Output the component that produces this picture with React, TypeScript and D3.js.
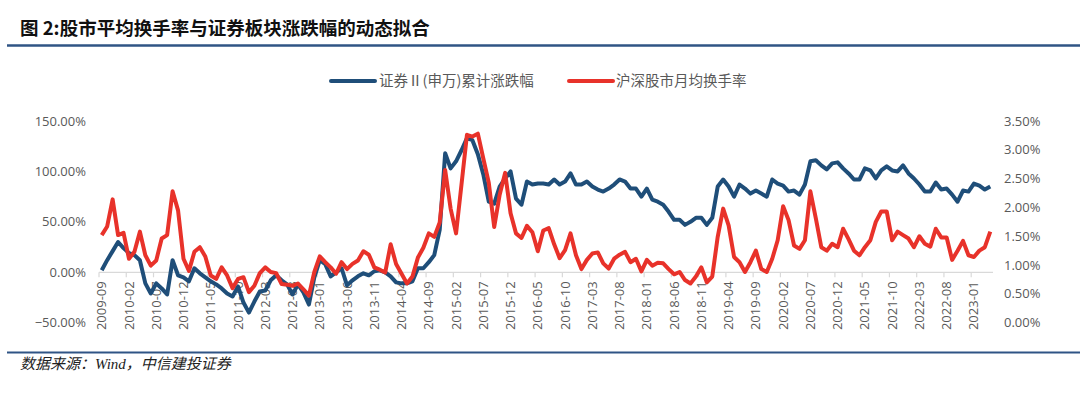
import * as d3 from "d3";

// months covered by both series
const startMonth = "2009-09";
const endMonth = "2023-04";

// 证券Ⅱ(申万)累计涨跌幅, %
const brokerCum = [
  2, 12, 21, 30, 24, 19, 17, 12, -11, -21, -11, -16, -22, 12, -3, -5, -9, 4, -1, -5,
  -9, -12, -16, -21, -24, -14, -30, -40, -29, -19, -18, -8, -3, -8, -12, -22, -12, -20, -32, -5,
  12, 8, -4, 0, 4, -13, -8, -4, -1, -3, 1, 2, 0, -4, -10, -11, -11, -9, 4, 4,
  10, 17, 42, 118, 103, 110, 121, 133, 131, 117, 97, 70, 68, 85, 93, 100, 73, 67, 90, 87,
  88, 88, 87, 92, 87, 90, 98, 87, 87, 90, 85, 82, 80, 83, 87, 92, 90, 83, 83, 75,
  83, 72, 70, 67, 60, 52, 52, 47, 50, 54, 54, 47, 54, 85, 92, 85, 75, 87, 83, 78,
  81, 78, 75, 92, 88, 86, 80, 81, 77, 87, 110, 111, 106, 102, 108, 109, 103, 98, 92, 92,
  103, 101, 93, 101, 105, 101, 100, 106, 98, 93, 87, 80, 80, 89, 82, 83, 77, 70, 81, 80,
  88, 86, 82, 85,
];

// 沪深股市月均换手率, %
const turnover = [
  1.52, 1.67, 2.14, 1.52, 1.56, 1.11, 1.23, 1.58, 1.17, 0.99, 1.08, 1.46, 1.52, 2.28, 1.95, 1.11, 0.9, 1.23, 1.31, 1.15,
  0.82, 0.76, 0.96, 0.82, 0.6, 0.76, 0.79, 0.53, 0.64, 0.86, 0.96, 0.88, 0.86, 0.67, 0.66, 0.64, 0.68, 0.58, 0.47, 0.88,
  1.15, 1.05, 0.96, 0.85, 1.05, 0.93, 1.02, 1.08, 1.24, 1.18, 0.96, 0.92, 0.87, 1.36, 1.02, 0.85, 0.68, 0.8, 1.13, 1.3,
  1.55, 1.49, 1.74, 2.65, 1.98, 1.55, 2.4, 3.26, 3.23, 3.28, 2.85, 2.43, 1.66, 2.22, 2.6, 1.9, 1.55, 1.47, 1.68, 1.57,
  1.24, 1.6, 1.64, 1.36, 1.12, 1.26, 1.55, 1.17, 0.93, 1.09, 1.2, 1.22, 1.03, 0.94, 1.11, 1.18, 1.23, 1.05, 1.11, 0.89,
  1.09, 0.99, 1.04, 1.03, 0.93, 0.84, 0.88, 0.74, 0.68, 0.8, 0.96, 0.7, 0.8, 1.49, 1.98, 1.69, 1.14, 1.05, 0.88, 1.05,
  1.25, 0.93, 0.88, 1.11, 1.43, 2.02, 1.78, 1.34, 1.28, 1.43, 2.28, 1.81, 1.31, 1.25, 1.37, 1.31, 1.63, 1.45, 1.25, 1.17,
  1.31, 1.43, 1.75, 1.93, 1.93, 1.43, 1.58, 1.52, 1.46, 1.31, 1.5, 1.37, 1.32, 1.63, 1.48, 1.48, 1.09, 1.25, 1.42, 1.17,
  1.14, 1.25, 1.31, 1.58,
];

const leftTicks = [-50, 0, 50, 100, 150];
const rightTicks = [0, 0.5, 1, 1.5, 2, 2.5, 3, 3.5];
const labelEvery = 5;

const seriesNames = ["证券Ⅱ(申万)累计涨跌幅", "沪深股市月均换手率"];
const title = "图 2:股市平均换手率与证券板块涨跌幅的动态拟合";
const source = "数据来源：Wind，中信建投证券";

const W = 1080;
const H = 397;
const BLUE = "#1f4e79";
const RED = "#e8322a";
const GREY = "#595959";

export default function App() {
  const parse = d3.timeParse("%Y-%m");
  const fmt = d3.timeFormat("%Y-%m");
  const months = d3
    .timeMonth.range(parse(startMonth)!, d3.timeMonth.offset(parse(endMonth)!, 1))
    .map((d) => fmt(d));

  const plot = { left: 99, right: 993, top: 121, bottom: 322.7 };

  const x = d3.scalePoint<string>().domain(months).range([plot.left, plot.right]).padding(0.5);
  const step = x.step();
  const yL = d3.scaleLinear().domain([-50, 150]).range([plot.bottom, plot.top]);
  const yR = d3.scaleLinear().domain([0, 3.5]).range([plot.bottom, plot.top]);

  const blueLine = d3
    .line<number>()
    .x((_, i) => x(months[i])!)
    .y((d) => yL(d));
  const redLine = d3
    .line<number>()
    .x((_, i) => x(months[i])!)
    .y((d) => yR(d));

  const zeroY = yL(0);
  const labelled = months.filter((_, i) => i % labelEvery === 0);

  const font = "'Open Sans', 'Noto Sans CJK SC', sans-serif";
  const cjk = "'Noto Sans CJK SC', sans-serif";

  return (
    <svg
      width={W}
      height={H}
      style={{ position: "absolute", left: 0, top: 0, background: "#fff" }}
    >
      {/* Title */}
      <text x={20} y={35} fontFamily={cjk} fontWeight={700} fontSize={18.5} fill="#111">
        {title}
      </text>
      <line x1={7} x2={W} y1={45.5} y2={45.5} stroke="#2f5485" strokeWidth={2.5} />

      {/* Legend */}
      <g fontFamily={cjk} fontSize={14.5} fill={GREY}>
        <line x1={331} x2={375} y1={81} y2={81} stroke={BLUE} strokeWidth={4} strokeLinecap="round" />
        <text x={379} y={86}>{seriesNames[0]}</text>
        <line x1={569} x2={613} y1={81} y2={81} stroke={RED} strokeWidth={4} strokeLinecap="round" />
        <text x={616} y={86}>{seriesNames[1]}</text>
      </g>

      {/* Left axis */}
      <g fontFamily={font} fontSize={13} fill={GREY} textAnchor="end">
        {leftTicks.map((t) => (
          <text key={t} x={86} y={yL(t)} dy="0.35em">
            {d3.format(".2f")(t)}%
          </text>
        ))}
      </g>

      {/* Right axis */}
      <g fontFamily={font} fontSize={13} fill={GREY} textAnchor="start">
        {rightTicks.map((t) => (
          <text key={t} x={1004} y={yR(t)} dy="0.35em">
            {d3.format(".2f")(t)}%
          </text>
        ))}
      </g>

      {/* Category axis along 0% */}
      <line x1={plot.left} x2={plot.right} y1={zeroY} y2={zeroY} stroke="#d9d9d9" strokeWidth={1.2} />
      {labelled.map((m) => (
        <line
          key={"t" + m}
          x1={x(m)! - step / 2}
          x2={x(m)! - step / 2}
          y1={zeroY}
          y2={zeroY + 5}
          stroke="#d9d9d9"
          strokeWidth={1.2}
        />
      ))}
      <g fontFamily={font} fontSize={13} fill={GREY} textAnchor="end">
        {labelled.map((m) => (
          <text
            key={"l" + m}
            transform={`translate(${x(m)},${zeroY + 9}) rotate(-90)`}
            dy="0.35em"
          >
            {m}
          </text>
        ))}
      </g>

      {/* Series */}
      <path d={blueLine(brokerCum)!} fill="none" stroke={BLUE} strokeWidth={4} strokeLinejoin="round" />
      <path d={redLine(turnover)!} fill="none" stroke={RED} strokeWidth={4} strokeLinejoin="round" />

      {/* Footer */}
      <line x1={7} x2={W} y1={352.5} y2={352.5} stroke="#2f5485" strokeWidth={2} />
      <text
        x={20}
        y={369}
        fontFamily="'Liberation Serif', 'Noto Sans CJK SC', serif"
        fontStyle="italic"
        fontSize={15}
        fill="#222"
      >
        {source}
      </text>
    </svg>
  );
}
